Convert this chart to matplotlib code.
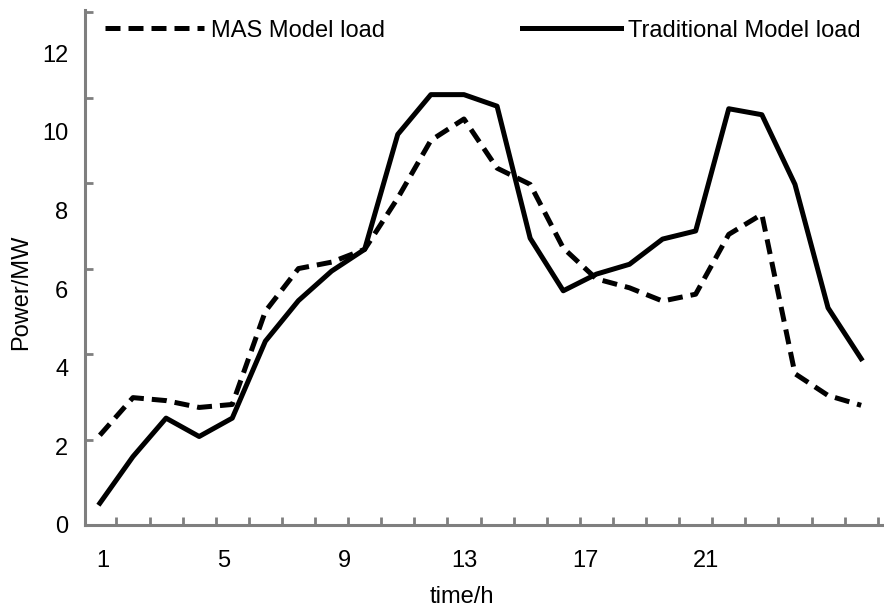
import matplotlib
matplotlib.use("Agg")
import matplotlib.pyplot as plt

plt.rcParams['font.family'] = ['Liberation Sans', 'DejaVu Sans']

# hourly load, hours 1..24
hours = list(range(1, 25))
mas_load = [2.1, 2.98, 2.91, 2.75, 2.82, 5.0, 6.0, 6.15, 6.45, 7.65,
            9.0, 9.5, 8.35, 7.97, 6.48, 5.76, 5.55, 5.24, 5.4, 6.8,
            7.27, 3.54, 3.03, 2.8]
traditional_load = [0.51, 1.6, 2.5, 2.07, 2.5, 4.3, 5.25, 5.94, 6.45, 9.14,
                    10.07, 10.07, 9.8, 6.71, 5.48, 5.87, 6.1, 6.69, 6.88, 9.74,
                    9.6, 7.97, 5.08, 3.89]

x_labels = [1, 5, 9, 13, 17, 21]
y_labels = [0, 2, 4, 6, 8, 10, 12]

gray = '#7f7f7f'
fs = 17

fig = plt.figure(figsize=(8.84, 6.11), dpi=100)
ax = fig.add_axes([0.096, 0.1408, 0.904, 0.8428])

ax.plot(hours, mas_load, color='black', lw=3.6, dashes=(3.0, 1.6),
        label='MAS Model load')
ax.plot(hours, traditional_load, color='black', lw=3.6,
        label='Traditional Model load')

ax.set_xlim(0.547, 24.69)
ax.set_ylim(0, 12.05)

for s in ['top', 'right']:
    ax.spines[s].set_visible(False)
for s in ['left', 'bottom']:
    ax.spines[s].set_color(gray)
    ax.spines[s].set_linewidth(2.2)

# tick marks sit between the hours and carry no labels
ax.set_xticks([h + 0.5 for h in hours])
ax.set_yticks(y_labels)
ax.tick_params(direction='in', length=6, width=2, color=gray,
               labelbottom=False, labelleft=False)

# the printed labels use their own (slightly compressed) spacing
secx = ax.secondary_xaxis('bottom',
                          functions=(lambda h: (h - 1.09) / 0.911 + 1,
                                     lambda v: (v - 1) * 0.911 + 1.09))
secx.set_xticks(x_labels)
secx.tick_params(length=0, pad=18, labelsize=fs)
secx.spines['bottom'].set_visible(False)

secy = ax.secondary_yaxis('left',
                          functions=(lambda d: d / 0.92,
                                     lambda v: v * 0.92))
secy.set_yticks(y_labels)
secy.tick_params(length=0, pad=12, labelsize=fs)
secy.spines['left'].set_visible(False)

fig.text(462 / 884, 1 - 597 / 611, 'time/h', ha='center', va='center',
         fontsize=fs)
fig.text(21 / 884, 1 - 292 / 611, 'Power/MW', ha='center', va='center',
         rotation=90, fontsize=fs)

ax.legend(loc='center left', bbox_to_anchor=(0.025, 0.96), ncol=2,
          frameon=False, fontsize=fs, handlelength=4.2, handletextpad=0.3,
          columnspacing=5.8, borderaxespad=0, borderpad=0)

fig.savefig('out.png', dpi=100)
